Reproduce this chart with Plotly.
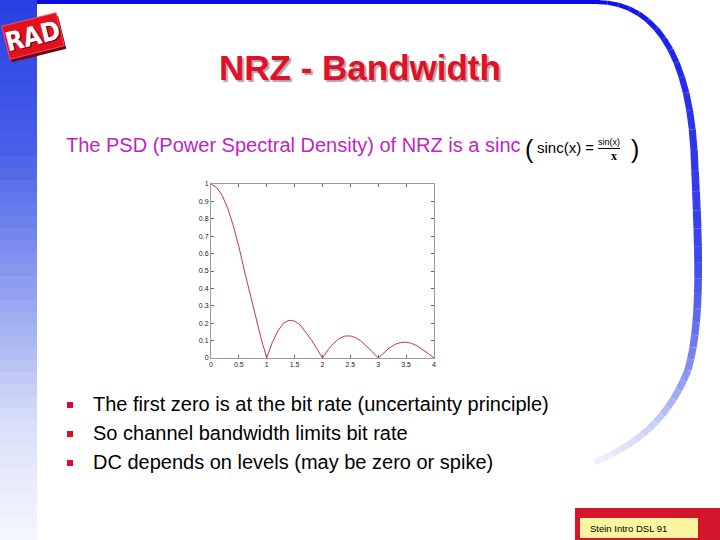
import math
import plotly.graph_objects as go

# ---------------- data ----------------
freq = [0.0, 0.1, 0.2, 0.3, 0.4, 0.5, 0.6, 0.7, 0.8, 0.9,
        1.0, 1.1, 1.2, 1.3, 1.4, 1.5, 1.6, 1.7, 1.8, 1.9,
        2.0, 2.1, 2.2, 2.3, 2.4, 2.5, 2.6, 2.7, 2.8, 2.9,
        3.0, 3.1, 3.2, 3.3, 3.4, 3.5, 3.6, 3.7, 3.8, 3.9, 4.0]
psd = [1.00, 0.98, 0.935, 0.86, 0.76, 0.64, 0.50, 0.37, 0.235, 0.11,
       0.00, 0.09, 0.155, 0.20, 0.217, 0.212, 0.19, 0.15, 0.105, 0.052,
       0.00, 0.047, 0.085, 0.112, 0.126, 0.127, 0.116, 0.095, 0.067, 0.034,
       0.00, 0.032, 0.058, 0.078, 0.089, 0.091, 0.084, 0.069, 0.049, 0.025, 0.00]

x_ticks = [0, 0.5, 1, 1.5, 2, 2.5, 3, 3.5, 4]
x_tick_labels = ["0", "0.5", "1", "1.5", "2", "2.5", "3", "3.5", "4"]
y_ticks = [0, 0.1, 0.2, 0.3, 0.4, 0.5, 0.6, 0.7, 0.8, 0.9, 1]
y_tick_labels = ["0", "0.1", "0.2", "0.3", "0.4", "0.5", "0.6", "0.7", "0.8", "0.9", "1"]

title_text = "NRZ - Bandwidth"
intro_text = "The PSD (Power Spectral Density) of NRZ is a sinc"
formula_left = "sinc(x) ="
formula_num = "sin(x)"
formula_den = "x"
bullets = ["The first zero is at the bit rate (uncertainty principle)",
           "So channel bandwidth limits bit rate",
           "DC depends on levels (may be zero or spike)"]
footer_text = "Stein Intro DSL 91"
logo_text = "RAD"

# ---------------- layout helpers (pixel -> paper) ----------------
W, H = 720, 540
L, R, T, B = 211, 434, 184, 358


def PX(x):
    return (x - L) / (R - L)


def PY(y):
    return (B - y) / (B - T)


def lerp_color(stops, v):
    for (a, ca), (b, cb) in zip(stops, stops[1:]):
        if v <= b:
            t = 0 if b == a else (v - a) / (b - a)
            c = [round(ca[i] + (cb[i] - ca[i]) * t) for i in range(3)]
            return "rgb(%d,%d,%d)" % tuple(c)
    return "rgb(%d,%d,%d)" % tuple(stops[-1][1])


shapes = []
annotations = []

# left gradient bar
bar_stops = [(0, (40, 62, 228)), (150, (72, 96, 232)), (300, (150, 165, 240)),
             (420, (215, 222, 248)), (540, (246, 247, 253))]
step = 12
for y0 in range(0, 540, step):
    shapes.append(dict(type="rect", xref="paper", yref="paper", layer="below",
                       x0=PX(0), x1=PX(37), y0=PY(y0), y1=PY(min(540, y0 + step + 1)),
                       line=dict(width=0),
                       fillcolor=lerp_color(bar_stops, y0 + step / 2)))

# top blue line
shapes.append(dict(type="rect", xref="paper", yref="paper", layer="below",
                   x0=PX(37), x1=PX(600), y0=PY(0), y1=PY(4),
                   line=dict(width=0), fillcolor="rgb(12,12,225)"))


# right arc (decorative)
def bez(p0, p1, p2, p3, n):
    pts = []
    for i in range(n + 1):
        t = i / n
        mt = 1 - t
        x = mt**3 * p0[0] + 3 * mt * mt * t * p1[0] + 3 * mt * t * t * p2[0] + t**3 * p3[0]
        y = mt**3 * p0[1] + 3 * mt * mt * t * p1[1] + 3 * mt * t * t * p2[1] + t**3 * p3[1]
        pts.append((x, y))
    return pts


arc = bez((596, 2), (652, 2), (688, 50), (694, 150), 14)
arc += bez((694, 150), (699, 250), (702, 320), (688, 370), 14)[1:]
arc += bez((688, 370), (668, 420), (636, 445), (595, 462), 14)[1:]
arc_stops = [(0, (15, 15, 228)), (0.45, (60, 70, 238)), (0.62, (120, 130, 242)),
             (0.8, (200, 205, 246)), (1.0, (244, 245, 252))]
n = len(arc) - 1
for i in range(n):
    s = i / n
    wdt = 4 + 4 * min(1, s / 0.4) if s < 0.4 else 8 - 2 * (s - 0.4) / 0.6
    (x0, y0), (x1, y1) = arc[i], arc[i + 1]
    path = "M %f %f L %f %f" % (PX(x0), PY(y0), PX(x1), PY(y1))
    shapes.append(dict(type="path", xref="paper", yref="paper", layer="below",
                       path=path, line=dict(color=lerp_color(arc_stops, s), width=wdt)))


# logo: rotated box drawn as polygon, then text
def rot_rect(cx, cy, w, h, ang_deg):
    a = math.radians(ang_deg)
    ca, sa = math.cos(a), math.sin(a)
    pts = []
    for dx, dy in [(-w / 2, -h / 2), (w / 2, -h / 2), (w / 2, h / 2), (-w / 2, h / 2)]:
        pts.append((cx + dx * ca - dy * sa, cy + dx * sa + dy * ca))
    return "M " + " L ".join("%f %f" % (PX(x), PY(y)) for x, y in pts) + " Z"


LOGO_CX, LOGO_CY, LOGO_ANG = 33, 36, -14
shapes.append(dict(type="path", xref="paper", yref="paper",
                   path=rot_rect(LOGO_CX + 2, LOGO_CY + 3, 56, 34, LOGO_ANG),
                   fillcolor="#6e0010", line=dict(width=0)))
shapes.append(dict(type="path", xref="paper", yref="paper",
                   path=rot_rect(LOGO_CX, LOGO_CY, 56, 34, LOGO_ANG),
                   fillcolor="#e3101e", line=dict(color="#f25060", width=1)))
annotations.append(dict(xref="paper", yref="paper", x=PX(LOGO_CX), y=PY(LOGO_CY),
                        xanchor="center", yanchor="middle",
                        text="<b>%s</b>" % logo_text, showarrow=False, textangle=LOGO_ANG,
                        font=dict(family="DejaVu Sans Condensed, Liberation Sans Narrow", size=26,
                                  color="white", shadow="1px 1px 0px #600010")))

# title with shadow
annotations.append(dict(xref="paper", yref="paper", x=PX(360), y=PY(67),
                        text="<b>%s</b>" % title_text, showarrow=False,
                        xanchor="center", yanchor="middle",
                        font=dict(family="Liberation Sans", size=35, color="#e0102a",
                                  shadow="2px 2px 1px #a8a8a8")))

# intro line
annotations.append(dict(xref="paper", yref="paper", x=PX(64), y=PY(145),
                        text=intro_text, showarrow=False, xanchor="left", yanchor="middle",
                        font=dict(family="Liberation Sans", size=20, color="#c21fc4")))
annotations.append(dict(xref="paper", yref="paper", x=PX(523), y=PY(149),
                        text="(", showarrow=False, xanchor="left", yanchor="middle",
                        font=dict(family="Liberation Sans", size=25, color="#000000")))
annotations.append(dict(xref="paper", yref="paper", x=PX(535), y=PY(147),
                        text=formula_left, showarrow=False, xanchor="left", yanchor="middle",
                        font=dict(family="Liberation Sans", size=15, color="#000000")))
annotations.append(dict(xref="paper", yref="paper", x=PX(609), y=PY(142),
                        text=formula_num, showarrow=False, xanchor="center", yanchor="middle",
                        font=dict(family="Liberation Sans", size=9, color="#000000")))
shapes.append(dict(type="line", xref="paper", yref="paper",
                   x0=PX(598), x1=PX(620), y0=PY(148.5), y1=PY(148.5),
                   line=dict(color="#000000", width=1)))
annotations.append(dict(xref="paper", yref="paper", x=PX(614), y=PY(156),
                        text="<b>%s</b>" % formula_den, showarrow=False, xanchor="center", yanchor="middle",
                        font=dict(family="Liberation Serif", size=12, color="#000000")))
annotations.append(dict(xref="paper", yref="paper", x=PX(629), y=PY(149),
                        text=")", showarrow=False, xanchor="left", yanchor="middle",
                        font=dict(family="Liberation Sans", size=25, color="#000000")))

# bullets
for i, txt in enumerate(bullets):
    yc = 404 + 29 * i
    shapes.append(dict(type="rect", xref="paper", yref="paper",
                       x0=PX(67), x1=PX(73), y0=PY(yc - 3 + 1), y1=PY(yc + 3 + 1),
                       line=dict(width=0), fillcolor="#d5102e"))
    annotations.append(dict(xref="paper", yref="paper", x=PX(91), y=PY(yc),
                            text=txt, showarrow=False, xanchor="left", yanchor="middle",
                            font=dict(family="Liberation Sans", size=20, color="#000000")))

# footer
shapes.append(dict(type="rect", xref="paper", yref="paper",
                   x0=PX(575), x1=PX(720), y0=PY(508), y1=PY(540),
                   line=dict(width=0), fillcolor="#d4162c"))
shapes.append(dict(type="rect", xref="paper", yref="paper",
                   x0=PX(580), x1=PX(698), y0=PY(518), y1=PY(538),
                   line=dict(width=0), fillcolor="#fcf6a0"))
annotations.append(dict(xref="paper", yref="paper", x=PX(588), y=PY(528),
                        text=footer_text, showarrow=False, xanchor="left", yanchor="middle",
                        font=dict(family="Liberation Sans", size=9.5, color="#000000")))

# ---------------- figure ----------------
fig = go.Figure()
fig.add_trace(go.Scatter(x=freq, y=psd, mode="lines",
                         line=dict(color="#cc3344", width=1), showlegend=False,
                         hoverinfo="skip"))

axis_common = dict(showgrid=False, zeroline=False, showline=True, linecolor="#9a9a9a",
                   linewidth=1, mirror="ticks", ticks="inside", ticklen=3,
                   tickcolor="#666666",
                   tickfont=dict(family="Liberation Sans", size=7, color="#222222"))
fig.update_xaxes(range=[0, 4], tickvals=x_ticks, ticktext=x_tick_labels, **axis_common)
fig.update_yaxes(range=[0, 1], tickvals=y_ticks, ticktext=y_tick_labels, **axis_common)

fig.update_layout(width=W, height=H, autosize=False,
                  margin=dict(l=L, r=W - R, t=T, b=H - B, pad=0),
                  paper_bgcolor="white", plot_bgcolor="white",
                  shapes=shapes, annotations=annotations)

fig.write_html("out.html", config={"displayModeBar": False},
               post_script="document.body.style.margin='0';document.body.style.overflow='hidden';")
